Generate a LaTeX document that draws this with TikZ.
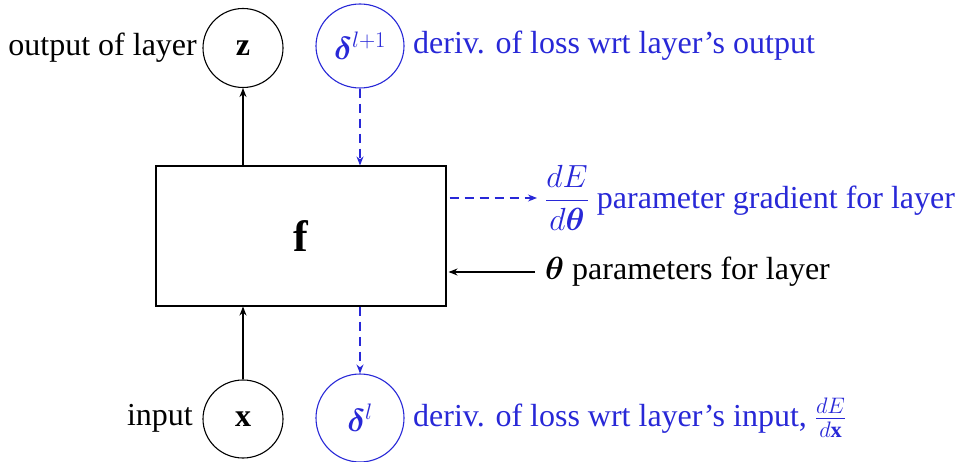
\RequirePackage{fix-cm}
\documentclass[tikz,border=0pt]{standalone}
\usepackage{amsmath}
\usepackage{bm}
\usepackage{fontspec}
\setmainfont{Liberation Serif}
\usetikzlibrary{shapes.geometric,arrows.meta}
\definecolor{dblue}{RGB}{40,40,215}
\tikzset{
  circ/.style={draw, ellipse, line width=1.1pt, inner sep=0pt},
  bcirc/.style={circ, draw=dblue, text=dblue},
  lbl/.style={inner sep=2pt, font=\fontsize{32}{38}\selectfont},
  blbl/.style={lbl, text=dblue},
  arr/.style={-{Stealth[length=9pt,width=7pt]}, line width=1.1pt},
  darr/.style={arr, draw=dblue, dash pattern=on 9pt off 6pt}
}
\begin{document}
\begin{tikzpicture}[x=1pt,y=-1pt]
\useasboundingbox (0,0) rectangle (961,462);
\node[draw, line width=1.1pt, minimum width=290pt, minimum height=140pt] (box) at (301,236) {\fontsize{44}{44}\selectfont$\mathbf{f}$};
\node[circ, minimum width=80pt, minimum height=79pt] (z) at (243,48) {\fontsize{32}{38}\selectfont$\mathbf{z}$};
\node[bcirc, minimum width=88pt, minimum height=84pt] (d1) at (360,46) {\fontsize{32}{38}\selectfont$\bm{\delta}^{l+1}$};
\node[circ, minimum width=80pt, minimum height=78pt] (x) at (243,419) {\fontsize{32}{38}\selectfont$\mathbf{x}$};
\node[bcirc, minimum width=88pt, minimum height=88pt] (d0) at (360,418) {\fontsize{32}{38}\selectfont$\bm{\delta}^{l}$};
\node[lbl, anchor=east] (zl) at (199,48) {output of layer};
\node[blbl, anchor=west] (d1l) at (411,46) {deriv. of loss wrt layer's output};
\node[lbl, anchor=east] (xl) at (195,418) {input};
\node[blbl, anchor=west] (d0l) at (411,418) {deriv. of loss wrt layer's input, $\frac{dE}{d\mathbf{x}}$};
\node[blbl, anchor=west] (grad) at (543,198) {$\dfrac{dE}{d\bm{\theta}}$ parameter gradient for layer};
\node[lbl, anchor=west] (par) at (543,272) {$\bm{\theta}$ parameters for layer};
\draw[arr] (box.north -| z) -- (z.south);
\draw[darr] (d1.south) -- (box.north -| d1);
\draw[arr] (x.north) -- (box.south -| x);
\draw[darr] (box.south -| d0) -- (d0.north);
\coordinate (ge) at (box.east |- grad);
\draw[darr] ([xshift=3pt]ge) -- ([xshift=-6pt]grad.west);
\coordinate (pe) at (box.east |- par);
\draw[arr] ([xshift=-8pt]par.west) -- ([xshift=2pt]pe);
\end{tikzpicture}
\end{document}
